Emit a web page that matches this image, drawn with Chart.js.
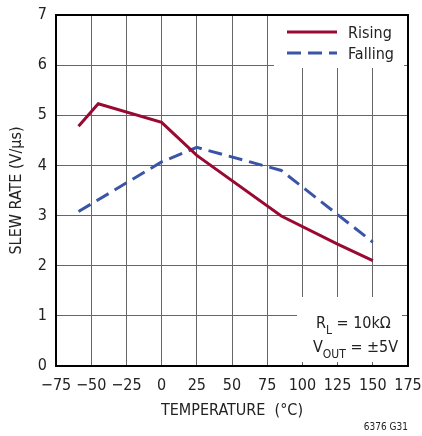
<!DOCTYPE html>
<html>
<head>
<meta charset="utf-8">
<script src="https://cdn.jsdelivr.net/npm/chart.js@4.4.1/dist/chart.umd.min.js"></script>
<style>
html, body { margin: 0; padding: 0; background: #fff; }
</style>
</head>
<body>
<canvas id="chart" width="422" height="436"></canvas>
<script>
// Data
const risingTemp = [-59, -45, 0, 25, 85, 125, 150];
const risingRate = [4.78, 5.23, 4.86, 4.2, 2.99, 2.43, 2.1];
const fallingTemp = [-59, 0, 25, 85, 150];
const fallingRate = [3.08, 4.07, 4.36, 3.9, 2.47];
const seriesNames = ['Rising', 'Falling'];
const xTitle = 'TEMPERATURE  (°C)';
const yTitle = 'SLEW RATE (V/µs)';
const figId = '6376 G31';

const FONT = "'Liberation Sans Narrow', 'DejaVu Sans Condensed', 'Arial Narrow', sans-serif";
const RED = '#990a33';
const BLUE = '#3a55a8';

function toPoints(xs, ys) {
    return xs.map((x, i) => ({ x: x, y: ys[i] }));
}

// White boxes, legend and notes inside the plot
const boxesPlugin = {
    id: 'boxes',
    beforeDatasetsDraw(chart) {
        const c = chart.ctx;
        const a = chart.chartArea;
        c.save();
        c.fillStyle = '#fff';
        // legend box
        c.fillRect(a.right - 134, a.top + 1, 130, 52);
        // note box
        c.fillRect(a.right - 111, a.bottom - 69, 105, 65);

        // legend
        c.lineWidth = 3;
        c.strokeStyle = RED;
        c.beginPath();
        c.moveTo(a.right - 121, a.top + 17);
        c.lineTo(a.right - 71, a.top + 17);
        c.stroke();
        c.strokeStyle = BLUE;
        c.setLineDash([14, 7]);
        c.beginPath();
        c.moveTo(a.right - 121, a.top + 38);
        c.lineTo(a.right - 71, a.top + 38);
        c.stroke();
        c.setLineDash([]);
        c.fillStyle = '#222';
        c.font = '16px ' + FONT;
        c.textBaseline = 'alphabetic';
        c.textAlign = 'left';
        c.fillText(seriesNames[0], a.right - 60, a.top + 23);
        c.fillText(seriesNames[1], a.right - 60, a.top + 44);

        // note text
        let x = a.right - 92;
        let y = a.bottom - 38;
        c.font = '16px ' + FONT;
        c.fillText('R', x, y);
        x += c.measureText('R').width;
        c.font = '12px ' + FONT;
        c.fillText('L', x, y + 6);
        x += c.measureText('L').width;
        c.font = '16px ' + FONT;
        c.fillText(' = 10kΩ', x, y);

        x = a.right - 95;
        y = a.bottom - 14;
        c.fillText('V', x, y);
        x += c.measureText('V').width;
        c.font = '12px ' + FONT;
        c.fillText('OUT', x, y + 6);
        x += c.measureText('OUT').width;
        c.font = '16px ' + FONT;
        c.fillText(' = ±5V', x, y);
        c.restore();
    },
    afterDatasetsDraw(chart) {
        const c = chart.ctx;
        const a = chart.chartArea;
        c.save();
        c.strokeStyle = '#000';
        c.lineWidth = 2;
        c.strokeRect(a.left, a.top, a.right - a.left, a.bottom - a.top);
        c.fillStyle = '#222';
        c.font = '10px ' + FONT;
        c.textAlign = 'right';
        c.fillText(figId, a.right, chart.height - 6);
        c.restore();
    }
};

const ctx = document.getElementById('chart').getContext('2d');
const chart = new Chart(ctx, {
    type: 'line',
    data: {
        datasets: [{
            label: seriesNames[0],
            data: toPoints(risingTemp, risingRate),
            borderColor: RED,
            borderWidth: 3,
            pointRadius: 0,
            tension: 0,
            fill: false
        }, {
            label: seriesNames[1],
            data: toPoints(fallingTemp, fallingRate),
            borderColor: BLUE,
            borderWidth: 3,
            borderDash: [14, 7],
            pointRadius: 0,
            tension: 0,
            fill: false
        }]
    },
    options: {
        responsive: false,
        animation: false,
        layout: { padding: { top: 15, right: 14, left: 0, bottom: 0 } },
        plugins: {
            legend: { display: false },
            tooltip: { enabled: false }
        },
        scales: {
            x: {
                type: 'linear',
                min: -75,
                max: 175,
                afterFit: scale => {
                    scale.height = 70;
                    scale.paddingLeft = 0;
                    scale.paddingRight = 0;
                },
                ticks: {
                    stepSize: 25,
                    padding: 10,
                    maxRotation: 0,
                    minRotation: 0,
                    autoSkip: false,
                    color: '#222',
                    font: { family: FONT, size: 16 },
                    callback: v => String(v).replace('-', '\u2212')
                },
                grid: { color: '#666', lineWidth: 1, drawTicks: false },
                border: { display: true, color: '#000', width: 2 },
                title: {
                    display: true,
                    text: xTitle,
                    color: '#222',
                    font: { family: FONT, size: 16 },
                    padding: { top: 0, bottom: 16 }
                }
            },
            y: {
                min: 0,
                max: 7,
                afterFit: scale => {
                    scale.width = 56;
                    scale.paddingTop = 0;
                    scale.paddingBottom = 0;
                },
                ticks: {
                    stepSize: 1,
                    padding: 9,
                    color: '#222',
                    font: { family: FONT, size: 16 }
                },
                grid: { color: '#666', lineWidth: 1, drawTicks: false },
                border: { display: true, color: '#000', width: 2 },
                title: {
                    display: true,
                    text: yTitle,
                    color: '#222',
                    font: { family: FONT, size: 16 },
                    padding: { top: 7, bottom: 0 }
                }
            }
        }
    },
    plugins: [boxesPlugin]
});
</script>
</body>
</html>
